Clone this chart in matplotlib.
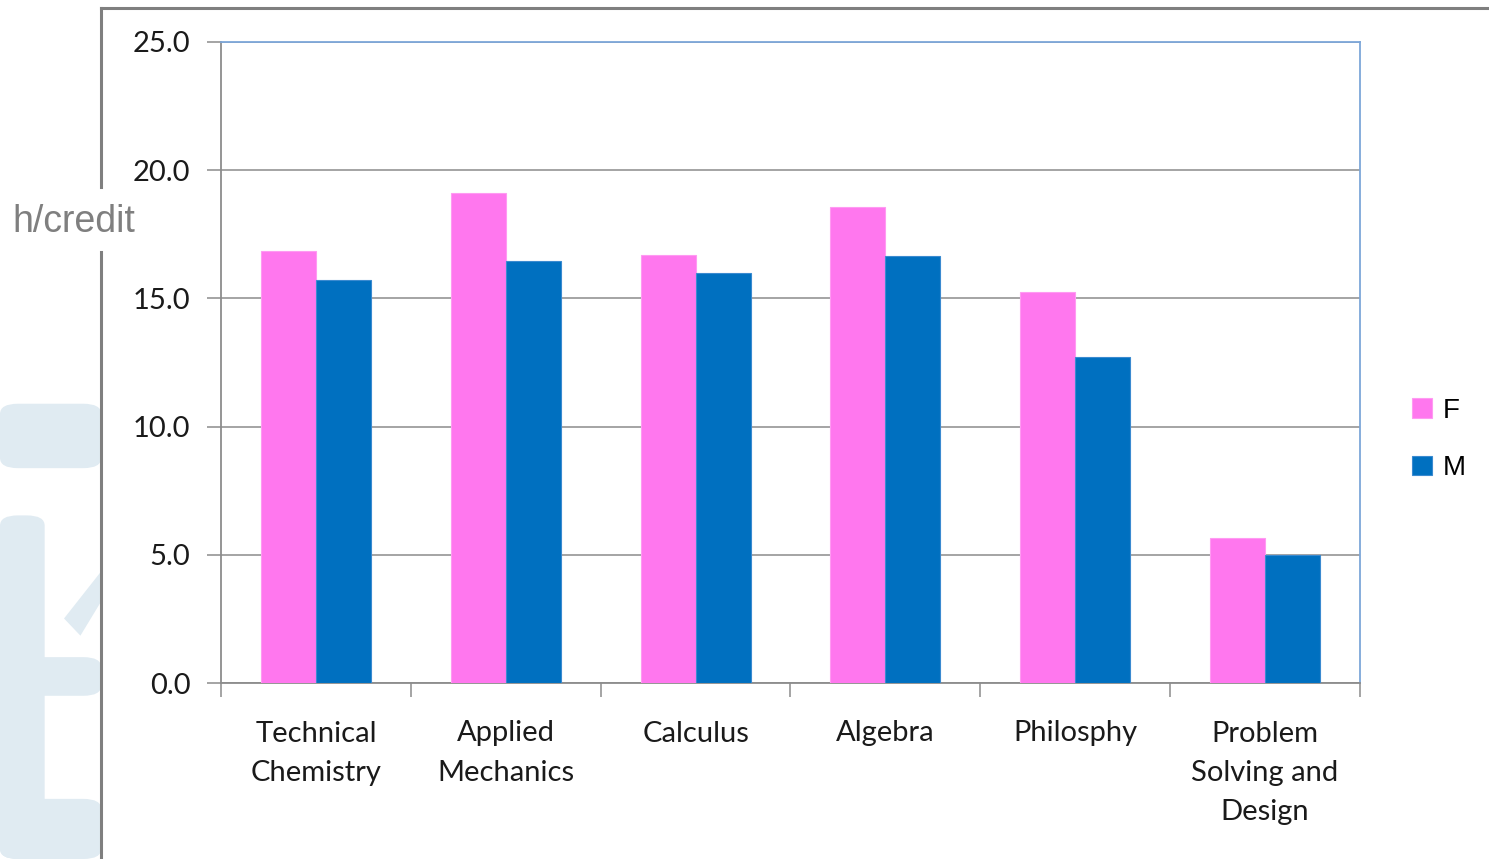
import matplotlib
matplotlib.use("Agg")
import matplotlib.pyplot as plt
import numpy as np
from matplotlib.patches import FancyBboxPatch, Polygon
from matplotlib.lines import Line2D

categories = ["Technical\nChemistry", "Applied\nMechanics", "Calculus",
              "Algebra", "Philosphy", "Problem\nSolving and\nDesign"]
female = [16.85, 19.1, 16.7, 18.55, 15.25, 5.65]
male = [15.7, 16.45, 16.0, 16.65, 12.7, 5.0]
yticks = [0.0, 5.0, 10.0, 15.0, 20.0, 25.0]

PINK = "#FF77EE"
BLUE = "#0070C0"
GRID = "#8C8C8C"

W, H = 1489, 859
fig = plt.figure(figsize=(W / 100, H / 100), dpi=100)
fig.patch.set_facecolor("white")

# faint background emblem on the left margin
deco = "#E0EBF2"
shapes = [
    (0.0, 0.455, 0.068, 0.075),
    (0.0, 0.0, 0.03, 0.40),
    (0.012, 0.19, 0.056, 0.045),
    (0.0, 0.0, 0.068, 0.07),
]
for x0, y0, w, h in shapes:
    fig.patches.append(FancyBboxPatch((x0, y0), w, h, boxstyle="round,pad=0,rounding_size=0.012",
                                      transform=fig.transFigure, facecolor=deco,
                                      edgecolor="none", zorder=0))
fig.patches.append(Polygon([[0.043, 0.28], [0.068, 0.335], [0.068, 0.30], [0.054, 0.26]],
                           closed=True, transform=fig.transFigure, facecolor=deco,
                           edgecolor="none", zorder=0))

# outer frame lines, with a gap behind the axis title
fx = 101 / W
fig.add_artist(Line2D([fx, fx], [0, 1 - 252 / H], transform=fig.transFigure,
                      color="#7F7F7F", lw=2.2))
fig.add_artist(Line2D([fx, fx], [1 - 187 / H, 1 - 8 / H], transform=fig.transFigure,
                      color="#7F7F7F", lw=2.2))
fig.add_artist(Line2D([fx, 1.0], [1 - 8 / H, 1 - 8 / H], transform=fig.transFigure,
                      color="#7F7F7F", lw=2.2))

ax = fig.add_axes([221 / W, 1 - 683 / H, (1360 - 221) / W, (683 - 42) / H])
ax.set_facecolor("white")

x = np.arange(len(categories))
w = 0.29
ax.bar(x - w / 2, female, width=w, color=PINK, edgecolor="#FF9AF2", linewidth=0.8,
       label="F", zorder=3)
ax.bar(x + w / 2, male, width=w, color=BLUE, edgecolor="#3A8AD0", linewidth=0.8,
       label="M", zorder=3)

ax.set_xlim(-0.5, len(categories) - 0.5)
ax.set_ylim(0, 25)
ax.set_yticks(yticks)
ax.set_yticklabels([f"{v:.1f}" for v in yticks])
ax.yaxis.grid(True, color=GRID, linewidth=1.1, zorder=0)
ax.set_axisbelow(True)

ax.set_xticks(np.arange(len(categories) + 1) - 0.5, minor=False)
ax.set_xticklabels([])
ax.set_xticks(x, minor=True)
ax.set_xticklabels(categories, minor=True, fontfamily="Lato", fontsize=21,
                   color="#1A1A1A", linespacing=1.62)
ax.tick_params(axis="x", which="major", length=10, width=1.1, color=GRID, direction="out")
ax.tick_params(axis="x", which="minor", length=0, pad=27)
ax.tick_params(axis="y", length=10, width=1.1, color=GRID, pad=12)
for lab in ax.get_yticklabels():
    lab.set_fontfamily("Lato")
    lab.set_fontsize(21)
    lab.set_color("#1A1A1A")

for side in ("left", "bottom"):
    ax.spines[side].set_color(GRID)
    ax.spines[side].set_linewidth(1.3)
for side in ("top", "right"):
    ax.spines[side].set_color("#7DA7D9")
    ax.spines[side].set_linewidth(1.3)

leg = ax.legend(loc="center left", bbox_to_anchor=(1.024, 0.38), frameon=False,
                prop={"family": "Liberation Sans", "size": 20},
                handlelength=0.7, handleheight=0.7, handletextpad=0.4,
                labelspacing=1.12)

fig.text(12 / W, 1 - 222 / H, "h/credit", fontfamily="Liberation Sans",
         fontsize=27, color="#7F7F7F", ha="left", va="center")

fig.savefig("out.png", dpi=100, facecolor="white")
